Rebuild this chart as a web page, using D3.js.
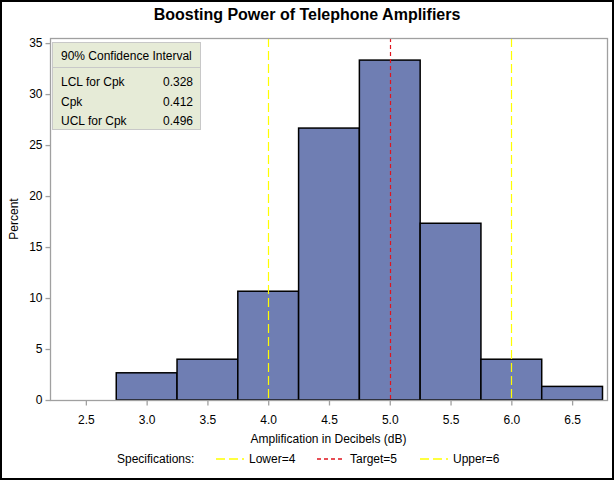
<!DOCTYPE html>
<html>
<head>
<meta charset="utf-8">
<script src="https://cdn.jsdelivr.net/npm/d3@7"></script>
<style>
  body { margin: 0; background: #fff; }
  text { font-family: "Liberation Sans", Arial, sans-serif; fill: #000; }
</style>
</head>
<body>
<script>
// histogram bins (midpoints) and percent of sample
var binMids = [3.0, 3.5, 4.0, 4.5, 5.0, 5.5, 6.0, 6.5];
var binWidth = 0.5;
var percents = [2.667, 4.0, 10.667, 26.667, 33.333, 17.333, 4.0, 1.333];

var xTicks = [2.5, 3.0, 3.5, 4.0, 4.5, 5.0, 5.5, 6.0, 6.5];
var yTicks = [0, 5, 10, 15, 20, 25, 30, 35];

// specification limits
var specNames = ["Lower", "Target", "Upper"];
var specValues = [4, 5, 6];

// confidence interval table
var ciLabels = ["LCL for Cpk", "Cpk", "UCL for Cpk"];
var ciValues = ["0.328", "0.412", "0.496"];

var w = 614;
var h = 480;
var plotL = 50, plotR = 607, plotT = 38, plotB = 400;

var svg = d3.select("body").append("svg");
svg.attr("width", w).attr("height", h);

// outer border
svg.append("rect")
  .attr("x", 1).attr("y", 1)
  .attr("width", w - 2).attr("height", h - 2)
  .attr("fill", "none").attr("stroke", "#000").attr("stroke-width", 2);

var xScale = d3.scaleLinear()
  .domain([2.205, 6.787])
  .range([plotL, plotR]);

var yScale = d3.scaleLinear()
  .domain([0, 35.5])
  .range([plotB, plotT]);

// bars
svg.selectAll("rect.bar")
  .data(binMids)
  .enter()
  .append("rect")
  .attr("class", "bar")
  .attr("x", function(d) { return xScale(d - binWidth / 2); })
  .attr("y", function(d, i) { return yScale(percents[i]); })
  .attr("width", function(d) { return xScale(d + binWidth / 2) - xScale(d - binWidth / 2); })
  .attr("height", function(d, i) { return yScale(0) - yScale(percents[i]); })
  .attr("fill", "#6f7eb3")
  .attr("stroke", "#000")
  .attr("stroke-width", 1.5);

// spec lines
var specColor = ["#ffff00", "#e0141e", "#ffff00"];
var specDash = ["9,4", "4,3", "9,4"];
svg.selectAll("line.spec")
  .data(specValues)
  .enter()
  .append("line")
  .attr("class", "spec")
  .attr("x1", function(d) { return Math.round(xScale(d)) + 0.5; })
  .attr("x2", function(d) { return Math.round(xScale(d)) + 0.5; })
  .attr("y1", plotT)
  .attr("y2", plotB)
  .attr("stroke", function(d, i) { return specColor[i]; })
  .attr("stroke-dasharray", function(d, i) { return specDash[i]; })
  .attr("stroke-width", 1.2);

// frame
svg.append("rect")
  .attr("x", plotL + 0.5).attr("y", plotT + 0.5)
  .attr("width", plotR - plotL).attr("height", plotB - plotT)
  .attr("fill", "none").attr("stroke", "#a0a0a0").attr("stroke-width", 1.3);

// axes
var xAxis = d3.axisBottom(xScale)
  .tickValues(xTicks)
  .tickFormat(d3.format(".1f"))
  .tickSize(5)
  .tickSizeOuter(0);
var gx = svg.append("g").attr("transform", "translate(0," + (plotB + 0.5) + ")").call(xAxis);

var yAxis = d3.axisLeft(yScale)
  .tickValues(yTicks)
  .tickSize(5)
  .tickSizeOuter(0);
var gy = svg.append("g").attr("transform", "translate(" + (plotL + 0.5) + ",0)").call(yAxis);

[gx, gy].forEach(function(g) {
  g.select(".domain").remove();
  g.selectAll(".tick line").attr("stroke", "#a0a0a0").attr("stroke-width", 1.3);
  g.selectAll(".tick text")
    .attr("font-family", "Liberation Sans, Arial, sans-serif")
    .attr("font-size", "12px")
    .attr("fill", "#000");
});
gx.selectAll(".tick text").attr("dy", "1.25em");
gy.selectAll(".tick text").attr("x", -8);

// title and axis labels
svg.append("text")
  .attr("x", w / 2).attr("y", 20)
  .attr("text-anchor", "middle")
  .attr("font-size", "16px")
  .attr("font-weight", "bold")
  .text("Boosting Power of Telephone Amplifiers");

svg.append("text")
  .attr("x", (plotL + plotR) / 2).attr("y", 443)
  .attr("text-anchor", "middle")
  .attr("font-size", "12px")
  .text("Amplification in Decibels (dB)");

svg.append("text")
  .attr("transform", "translate(18," + (plotT + plotB) / 2 + ") rotate(-90)")
  .attr("text-anchor", "middle")
  .attr("font-size", "12px")
  .text("Percent");

// inset table
var box = svg.append("g");
box.append("rect")
  .attr("x", 52.5).attr("y", 42.5)
  .attr("width", 148).attr("height", 87)
  .attr("fill", "#e6ebd7").attr("stroke", "#c8c8c8");
box.append("line")
  .attr("x1", 53).attr("x2", 200)
  .attr("y1", 67.5).attr("y2", 67.5)
  .attr("stroke", "#c8c8c8");
box.append("text")
  .attr("x", 61).attr("y", 60)
  .attr("font-size", "12px")
  .text("90% Confidence Interval");
box.selectAll("text.lab")
  .data(ciLabels)
  .enter()
  .append("text")
  .attr("class", "lab")
  .attr("x", 61)
  .attr("y", function(d, i) { return 86 + i * 19.5; })
  .attr("font-size", "12px")
  .text(function(d) { return d; });
box.selectAll("text.val")
  .data(ciValues)
  .enter()
  .append("text")
  .attr("class", "val")
  .attr("x", 193)
  .attr("y", function(d, i) { return 86 + i * 19.5; })
  .attr("text-anchor", "end")
  .attr("font-size", "12px")
  .text(function(d) { return d; });

// legend
var ly = 459;
svg.append("text")
  .attr("x", 117).attr("y", ly + 4)
  .attr("font-size", "12px")
  .text("Specifications:");
var legX = [216, 317, 420];
specValues.forEach(function(v, k) {
  svg.append("line")
    .attr("x1", legX[k]).attr("x2", legX[k] + 28)
    .attr("y1", ly).attr("y2", ly)
    .attr("stroke", specColor[k])
    .attr("stroke-dasharray", specDash[k])
    .attr("stroke-width", 1.5);
  svg.append("text")
    .attr("x", legX[k] + 33).attr("y", ly + 4)
    .attr("font-size", "12px")
    .text(specNames[k] + "=" + v);
});
</script>
</body>
</html>
